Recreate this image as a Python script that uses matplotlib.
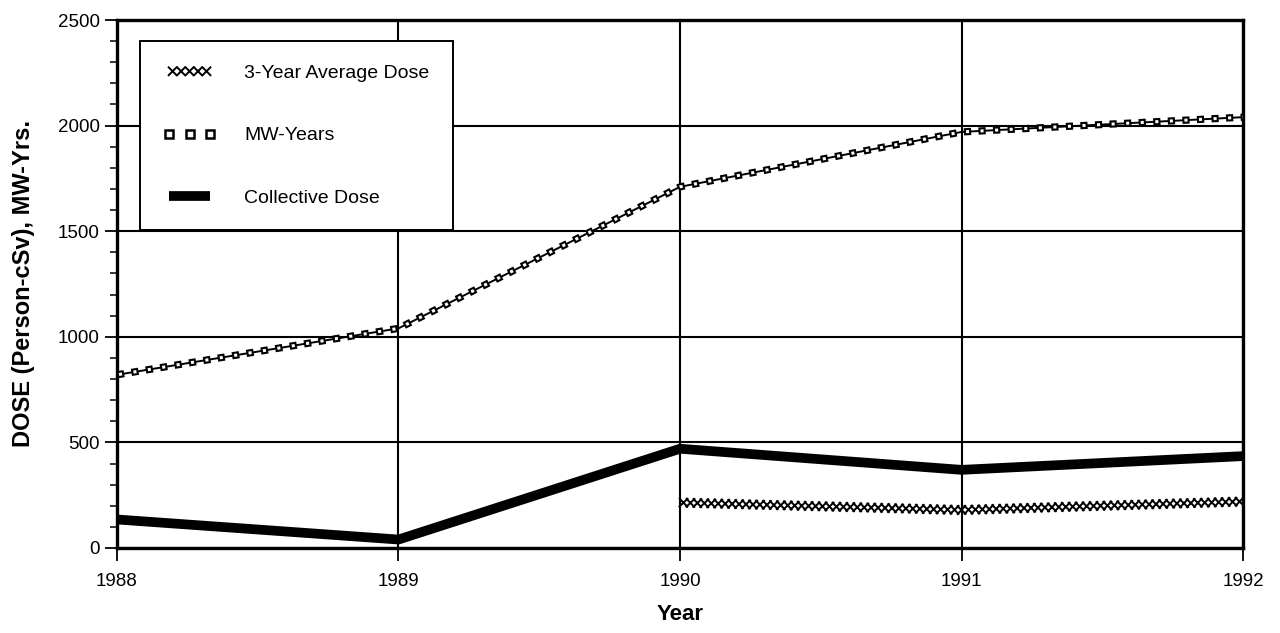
import matplotlib
matplotlib.use("Agg")
import matplotlib.pyplot as plt
import matplotlib.patheffects as pe
from matplotlib.lines import Line2D

plt.rcParams['font.family'] = ['Liberation Sans Narrow', 'Liberation Sans', 'DejaVu Sans']
plt.rcParams['lines.scale_dashes'] = False

# --- data ---
years = [1988, 1989, 1990, 1991, 1992]
collective_dose = [135, 40, 470, 370, 435]
mw_years = [820, 1040, 1710, 1970, 2040]
avg_years = [1990, 1991, 1992]
avg_dose = [215, 180, 220]

fig = plt.figure(figsize=(12.8, 6.33), dpi=100)
ax = fig.add_axes([0.0914, 0.1343, 0.8797, 0.8341])

# grid first so data sits on top
ax.set_axisbelow(True)
ax.grid(True, which='major', color='black', lw=1.5)

# collective dose: heavy black line
l_coll, = ax.plot(years, collective_dose, color='black', lw=7, solid_capstyle='butt',
                  zorder=3)

# 3-year average: chain of small x's built from ticked strokes
x_marks = [pe.TickedStroke(spacing=5, angle=a, length=0.8, linewidth=1.4)
           for a in (45, 135, -45, -135)]
l_avg, = ax.plot(avg_years, avg_dose, color='black', lw=0.0001, zorder=3)
l_avg.set_path_effects(x_marks)

# MW-years: thin line with little hollow squares along it
ax.plot(years, mw_years, color='black', lw=1.4, zorder=3)
ax.plot(years, mw_years, color='black', lw=5.2, linestyle=(0, (5.2, 5.3)), zorder=4)
ax.plot(years, mw_years, color='white', lw=2.2, linestyle=(-1.5, (2.2, 8.3)), zorder=5)

ax.set_xlim(1988, 1992)
ax.set_ylim(0, 2500)
ax.set_xticks(years)
ax.set_xticklabels([str(y) for y in years])
ax.set_yticks([0, 500, 1000, 1500, 2000, 2500])
ax.set_yticks(range(0, 2501, 100), minor=True)

ax.tick_params(axis='both', which='major', direction='out', length=9, width=1.3,
               labelsize=13.5, colors='black')
ax.tick_params(axis='y', which='minor', direction='out', length=5, width=1.1)
ax.tick_params(axis='x', which='major', pad=9)
for s in ax.spines.values():
    s.set_linewidth(2.4)

ax.set_xlabel('Year', fontsize=16, fontweight='bold', labelpad=10)
ax.set_ylabel('DOSE (Person-cSv), MW-Yrs.', fontsize=17, fontweight='bold', labelpad=16)

# legend proxies
h_avg = Line2D([], [], color='black', lw=0.0001, path_effects=x_marks)
h_mw = Line2D([], [], color='black', linestyle='none', marker='s', markersize=6,
              markerfacecolor='white', markeredgecolor='black', markeredgewidth=1.8)
h_coll = Line2D([], [], color='black', lw=7, solid_capstyle='butt')

leg = ax.legend([h_avg, h_mw, h_coll],
                ['3-Year Average Dose', 'MW-Years', 'Collective Dose'],
                numpoints=3, loc='upper left', bbox_to_anchor=(0.0204, 0.960),
                borderaxespad=0, fontsize=14, frameon=True, fancybox=False,
                framealpha=1, edgecolor='black', labelspacing=2.3,
                handlelength=2.7, handletextpad=1.45, borderpad=1.2)
leg.get_frame().set_linewidth(1.4)
leg.set_zorder(10)

fig.savefig('out.png', dpi=100)
